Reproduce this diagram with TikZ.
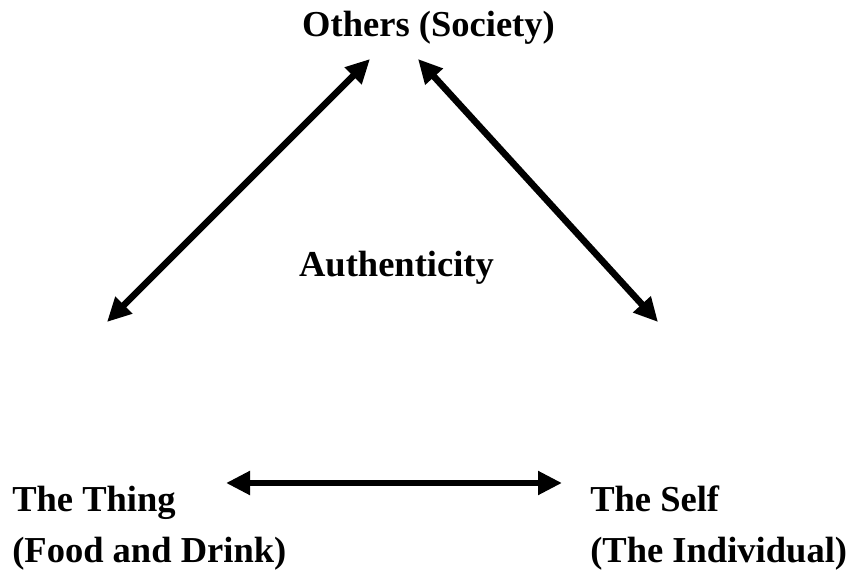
\documentclass[tikz,border=0pt]{standalone}
\usepackage{fontspec}
\setmainfont{Liberation Serif}
\usetikzlibrary{arrows.meta}
\begin{document}
\begin{tikzpicture}[x=0.75pt,y=-0.75pt,
  lbl/.style={inner sep=0pt,font=\fontsize{27.4pt}{32pt}\selectfont\bfseries},
  link/.style={line width=5pt,{Triangle[length=18pt,width=17pt]}-{Triangle[length=18pt,width=17pt]}}]
\useasboundingbox (0,0) rectangle (851,577);
\node[lbl,anchor=base] (others) at (428.5,37) {Others (Society)};
\node[lbl,anchor=base] (auth) at (396.5,277) {Authenticity};
\node[lbl,anchor=base west] (thing) at (12,512) {The Thing};
\node[lbl,anchor=base west] (food) at (12,563) {(Food and Drink)};
\node[lbl,anchor=base west] (self) at (590,512) {The Self};
\node[lbl,anchor=base west] (indiv) at (590,563) {(The Individual)};
\coordinate (tl) at (370,59);
\coordinate (tr) at (418,59);
\coordinate (ml) at (107,322);
\coordinate (mr) at (658,322);
\coordinate (bl) at (226,483);
\coordinate (br) at (562,483);
\draw[link] (ml) -- (tl);
\draw[link] (tr) -- (mr);
\draw[link] (bl) -- (br);
\end{tikzpicture}
\end{document}
